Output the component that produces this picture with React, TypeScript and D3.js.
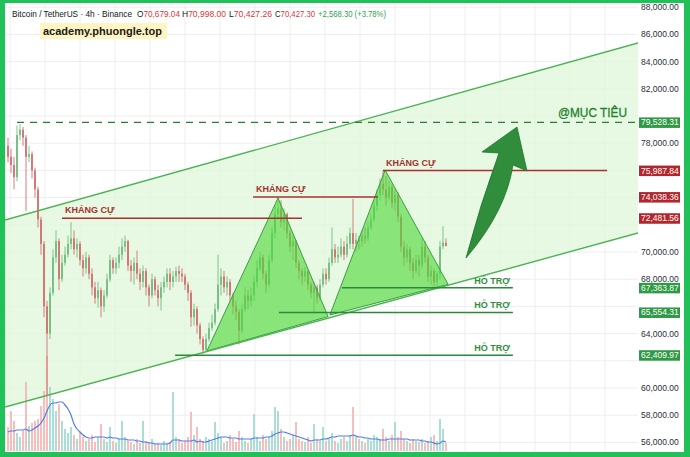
import React from 'react';
import * as d3 from 'd3';

// Prices in thousand USDT, 4h candles (open = previous close)
const firstOpen = 77.8;
const closes = [77.0,76.4,75.5,78.6,79.0,78.4,77.0,77.2,76.0,74.6, 72.4,70.6,66.0,64.0,67.0,69.6,70.8,68.0,69.2,69.8, 70.6,71.0,70.2,70.6,69.4,68.8,69.6,68.4,67.4,66.6, 67.2,66.0,66.8,68.0,69.4,68.8,69.2,69.8,70.4,70.8, 69.0,68.6,69.2,68.4,67.8,68.6,67.4,66.8,68.0,67.2, 66.6,67.4,67.8,68.4,67.8,68.2,68.6,68.4,68.2,67.6, 67.0,65.2,65.8,64.6,63.6,62.8,63.6,64.4,64.8,65.8, 67.6,68.2,67.4,67.8,66.8,66.0,65.6,64.2,65.8,66.8, 66.4,66.8,67.8,68.8,69.6,68.4,67.6,69.4,71.4,72.8, 73.2,72.2,72.8,71.4,70.4,70.8,69.2,68.6,68.2,68.6, 67.6,67.0,67.4,66.6,67.6,68.4,68.0,69.2,70.2,69.6, 69.8,70.4,69.8,70.6,71.4,70.6,70.9,70.8,71.2,71.0, 71.8,72.4,73.4,74.2,75.0,74.6,74.0,74.8,73.6,74.2, 72.6,70.4,69.6,70.2,69.2,68.6,69.4,69.0,70.4,69.6, 68.2,68.6,67.8,68.4,70.4,70.68,70.43];
const highs = [78.4,77.6,77.0,79.3,79.4,79.2,78.6,77.8,77.4,76.2, 74.8,72.6,70.8,66.4,67.4,70.2,71.6,71.0,69.8,70.4, 71.2,72.2,71.6,71.0,70.8,69.8,70.0,69.8,68.8,67.8, 67.8,67.4,67.2,68.4,69.8,69.6,69.6,70.4,71.0,71.2, 70.9,69.4,69.6,70.1,68.8,69.0,68.8,67.6,68.4,68.2, 67.6,67.8,68.2,68.8,68.8,68.6,68.9,69.0,68.8,68.4, 67.8,67.2,66.2,66.0,64.8,63.8,64.0,64.8,65.4,66.2, 69.8,68.8,68.6,68.2,68.0,67.0,66.4,65.8,66.2,67.4, 67.2,67.4,68.2,69.4,70.0,69.8,68.6,69.8,71.8,73.4, 74.0,73.8,73.2,72.9,71.6,71.2,70.9,69.4,68.8,68.9, 68.7,67.8,67.8,67.6,68.0,68.8,68.8,69.6,71.8,70.6, 70.4,71.0,70.8,71.2,71.8,73.9,71.4,71.2,71.6,71.8, 72.2,72.8,73.8,74.6,75.4,76.0,75.6,75.2,75.0,74.6, 74.4,72.8,70.8,70.6,70.4,69.6,69.8,69.8,71.0,70.8, 69.8,69.0,68.8,68.6,70.8,71.9,71.0];
const lows = [76.6,75.8,74.6,75.2,78.2,77.8,73.0,76.6,75.4,74.0, 71.8,69.8,65.2,59.4,63.6,66.8,69.2,67.2,67.8,69.0, 69.6,70.2,69.8,69.6,69.0,68.2,68.4,68.0,66.8,66.2, 65.9,65.2,65.6,66.6,67.8,68.4,68.4,68.8,69.4,70.0, 68.6,67.8,67.6,68.0,67.2,67.4,66.8,66.0,66.6,66.8, 66.0,65.7,67.0,67.4,67.2,67.4,67.8,67.8,67.8,67.2, 66.4,64.5,64.6,64.0,63.2,62.5,62.6,63.4,64.2,64.6, 65.6,66.8,67.0,66.8,66.4,65.4,65.0,63.2,64.0,65.6, 65.8,66.0,66.4,67.4,68.6,68.0,67.0,67.4,69.2,71.0, 72.4,71.8,71.6,71.0,70.0,69.4,68.8,68.0,67.6,67.8, 67.2,66.6,65.6,66.2,66.4,67.4,67.6,67.8,69.0,69.2, 69.2,69.6,69.4,69.6,70.2,70.2,70.0,70.2,70.4,70.6, 70.8,71.6,72.2,73.0,73.8,74.2,73.4,73.8,73.2,73.0, 72.2,70.0,69.0,69.2,68.6,68.0,68.4,68.2,68.8,69.2, 67.8,67.6,67.36,67.4,68.0,70.2,70.43];
const volumes = [24,40,30,18,14,20,69,25,28,30, 32,45,60,95,64,52,40,47,30,22, 18,24,16,12,19,14,10,12,16,9, 14,27,12,9,24,10,8,12,30,14, 10,9,7,12,8,30,10,9,12,7, 8,6,10,8,9,59,14,12,8,10, 14,39,16,24,12,10,14,12,10,29, 18,14,8,10,16,12,9,20,14,10, 8,12,37,14,10,16,12,14,20,44, 40,22,14,10,12,16,29,12,10,9, 14,8,27,12,10,24,10,12,18,10, 8,12,14,10,16,44,14,12,10,8, 12,10,16,14,12,22,14,10,16,29, 14,20,12,10,8,12,10,9,12,8, 10,14,16,10,32,22,8];
const volumeMA = [19,20,20,21,21,21,22,20,21,23, 25,28,33,40,46,48,48,49,49,46, 42,36,27,22,19,16,14,13,13,14, 14,14,14,13,14,13,13,12,12,12, 11,11,11,10,10,9,9,8,8,7, 7,7,7,7,8,11,11,11,10,10, 10,10,11,9,10,9,9,10,11,12, 13,14,14,14,13,13,13,12,12,12, 12,12,13,13,13,13,14,14,15,17, 18,19,19,18,17,16,15,14,13,12, 11,10,11,11,11,12,12,13,14,14, 15,15,15,15,15,16,15,14,14,13, 13,12,12,12,11,11,11,12,12,12, 12,12,12,12,11,11,11,11,10,10, 9,9,8,7,8,10,9];

const priceTicks = d3.range(56, 88.001, 2);
const channelUpper: [number, number][] = [[-1, 72.35], [210, 85.37]];
const channelLower: [number, number][] = [[-1, 58.6], [210, 71.4]];
const targetLevel = 79.52831;
const targetSpan = [3, 210];
const resistanceLevels = [72.48156, 74.03836, 75.98784];
const resistanceSpans = [[18, 98], [81.7, 123.3], [125, 199.7]];
const supportLevels = [67.36387, 65.55431, 62.40997];
const supportSpans = [[111.3, 168.3], [90.3, 168.3], [55.7, 168.3]];
const triangles: [number, number][][] = [
  [[66.3, 62.72], [90, 73.97], [106.7, 65.25]],
  [[107.3, 65.37], [125.7, 76.03], [146.7, 67.62]],
];
// arrow: tail, ctrlLeft, notchLeft, wingLeft, tip, wingRight, notchRight, ctrlRight
const arrowPts: [number, number][] = [
  [152.67, 69.559], [157.3, 73.45], [163.67, 77.279], [158, 77.353],
  [169.67, 79.191], [173, 75.956], [168.33, 76.397], [166, 73.0],
];
const header = {
  title: 'Bitcoin / TetherUS · 4h · Binance',
  o: '70,679.04', h: '70,998.00', l: '70,427.26', c: '70,427.30',
  change: '+2,568.30 (+3.78%)',
};

const W = 690, H = 457;
const FONT = 'Liberation Sans, Arial, sans-serif';

export default function App() {
  const x = d3.scaleLinear().domain([0, 146]).range([8, 446]);
  const y = d3.scaleLinear().domain([56, 88]).range([442.4, 7.2]);
  const yv = d3.scaleLinear().domain([0, 100]).range([451, 351]);
  const plotRight = x(210);

  const opens = closes.map((c, i) => (i === 0 ? firstOpen : closes[i - 1]));
  const up = '#72bd80', down = '#d27070';

  const chanPoly = [
    [x(channelUpper[0][0]), y(channelUpper[0][1])],
    [x(channelUpper[1][0]), y(channelUpper[1][1])],
    [x(channelLower[1][0]), y(channelLower[1][1])],
    [x(channelLower[0][0]), y(channelLower[0][1])],
  ].map(p => p.join(',')).join(' ');

  const maLine = d3.line<number>().x((_, i) => x(i)).y(d => yv(d)).curve(d3.curveMonotoneX)(volumeMA) || '';

  const ap = arrowPts.map(([i, p]) => [x(i), y(p)]);
  const arrowPath = `M${ap[0]} Q${ap[1]} ${ap[2]} L${ap[3]} L${ap[4]} L${ap[5]} L${ap[6]} Q${ap[7]} ${ap[0]} Z`;

  const gridX = d3.range(0.667, 211, 11.667);

  const boxes = [
    { v: targetLevel, c: '#2e9a44' },
    ...resistanceLevels.map(v => ({ v, c: '#b3262b' })),
    ...supportLevels.map(v => ({ v, c: '#2e9a44' })),
  ];
  const fmt = d3.format(',.2f');
  const visibleTicks = priceTicks.filter(t => boxes.every(b => Math.abs(y(t) - y(b.v)) > 8.5));

  return (
    <svg width={W} height={H} style={{ position: 'absolute', left: 0, top: 0 }} fontFamily={FONT}>
      <defs>
        <clipPath id="plot"><rect x={5} y={3} width={plotRight - 5} height={449} /></clipPath>
      </defs>
      <rect x={0} y={0} width={W} height={H} fill="#ffffff" />
      <g clipPath="url(#plot)">
        {gridX.map((g, k) => (
          <line key={'gx' + k} x1={x(g)} x2={x(g)} y1={3} y2={452} stroke="#eeeeee" />
        ))}
        {priceTicks.map(t => (
          <line key={'gy' + t} x1={5} x2={plotRight} y1={y(t)} y2={y(t)} stroke="#eeeeee" />
        ))}
        <polygon points={chanPoly} fill="#dff7d8" fillOpacity={0.75} />
        {volumes.map((v, i) => (
          <rect key={'v' + i} x={x(i) - 1} y={yv(v)} width={2} height={yv(0) - yv(v)}
            fill={closes[i] >= opens[i] ? '#9fd8cf' : '#f6b3b3'} fillOpacity={0.85} />
        ))}
        <path d={maLine} fill="none" stroke="#4f7df0" strokeWidth={1.2} />
        {closes.map((c, i) => {
          const o = opens[i];
          const col = c >= o ? up : down;
          const top = y(Math.max(o, c)), bot = y(Math.min(o, c));
          return (
            <g key={'c' + i}>
              <line x1={x(i)} x2={x(i)} y1={y(highs[i])} y2={y(lows[i])} stroke={col} strokeWidth={0.9} />
              <rect x={x(i) - 0.9} y={top} width={1.8} height={Math.max(0.8, bot - top)} fill={col} />
            </g>
          );
        })}
        {triangles.map((t, k) => (
          <polygon key={'t' + k} points={t.map(([i, p]) => `${x(i)},${y(p)}`).join(' ')}
            fill="#4fd93a" fillOpacity={0.62} stroke="#3b9e45" strokeWidth={1} />
        ))}
        <line x1={x(channelUpper[0][0])} y1={y(channelUpper[0][1])} x2={x(channelUpper[1][0])} y2={y(channelUpper[1][1])} stroke="#4db356" strokeWidth={1.4} />
        <line x1={x(channelLower[0][0])} y1={y(channelLower[0][1])} x2={x(channelLower[1][0])} y2={y(channelLower[1][1])} stroke="#4db356" strokeWidth={1.4} />
        <line x1={x(targetSpan[0])} x2={x(targetSpan[1])} y1={y(targetLevel)} y2={y(targetLevel)} stroke="#2a7d34" strokeWidth={1.4} strokeDasharray="7,6" />
        {resistanceLevels.map((lv, k) => (
          <g key={'r' + k}>
            <line x1={x(resistanceSpans[k][0])} x2={x(resistanceSpans[k][1])} y1={y(lv)} y2={y(lv)} stroke="#a8302e" strokeWidth={1.5} />
            <text x={x(resistanceSpans[k][0]) + 3} y={y(lv) - 5} fontSize={9} fontWeight="bold" fill="#a8302e">KHÁNG CỰ</text>
          </g>
        ))}
        {supportLevels.map((lv, k) => (
          <g key={'s' + k}>
            <line x1={x(supportSpans[k][0])} x2={x(supportSpans[k][1])} y1={y(lv)} y2={y(lv)} stroke="#2a8a38" strokeWidth={1.5} />
            <text x={x(supportSpans[k][1]) - 3} y={y(lv) - 4} fontSize={9} fontWeight="bold" fill="#2f8f3d" textAnchor="end">HỖ TRỢ</text>
          </g>
        ))}
        <path d={arrowPath} fill="#2f8d3c" stroke="#23752f" strokeWidth={0.8} />
        <text x={558} y={y(targetLevel) - 5} fontSize={12.5} fill="#23812f" stroke="#23812f" strokeWidth={0.3} textLength={69} lengthAdjust="spacingAndGlyphs">@MỤC TIÊU</text>
      </g>
      {/* price axis */}
      <rect x={plotRight} y={3} width={684 - plotRight} height={449} fill="#ffffff" />
      {visibleTicks.map(t => (
        <text key={'pt' + t} x={641} y={y(t)} dy="0.35em" fontSize={8.5} fill="#2a2e39">{fmt(t * 1000)}</text>
      ))}
      {boxes.map((b, k) => (
        <g key={'b' + k}>
          <rect x={639} y={y(b.v) - 5} width={41} height={10.5} fill={b.c} />
          <text x={641} y={y(b.v)} dy="0.35em" fontSize={8.5} fill="#ffffff">{fmt(b.v * 1000)}</text>
        </g>
      ))}
      {/* header */}
      <text x={12} y={17} fontSize={8.5} fill="#131722" textLength={120} lengthAdjust="spacingAndGlyphs">{header.title}</text>
      {([['O', header.o, 137, 43], ['H', header.h, 182, 44], ['L', header.l, 229, 43], ['C', header.c, 275, 40]] as [string, string, number, number][]).map(([k, v, px, len]) => (
        <text key={k} x={px} y={17} fontSize={8.5} fill="#131722" textLength={len} lengthAdjust="spacingAndGlyphs">{k}<tspan fill="#d6373c">{v}</tspan></text>
      ))}
      <text x={318} y={17} fontSize={8.5} fill="#2e9e4f" textLength={68} lengthAdjust="spacingAndGlyphs">{header.change}</text>
      <rect x={40} y={23} width={127} height={16} fill="#fff5c2" />
      <text x={43} y={35} fontSize={11} fontWeight="bold" fill="#1a1a1a">academy.phuongle.top</text>
      {/* frame */}
      <rect x={0} y={0} width={5} height={H} fill="#21c15a" />
      <rect x={0} y={0} width={W} height={3} fill="#21c15a" />
      <rect x={684} y={0} width={6} height={H} fill="#21c15a" />
      <rect x={0} y={452} width={W} height={5} fill="#21c15a" />
    </svg>
  );
}
